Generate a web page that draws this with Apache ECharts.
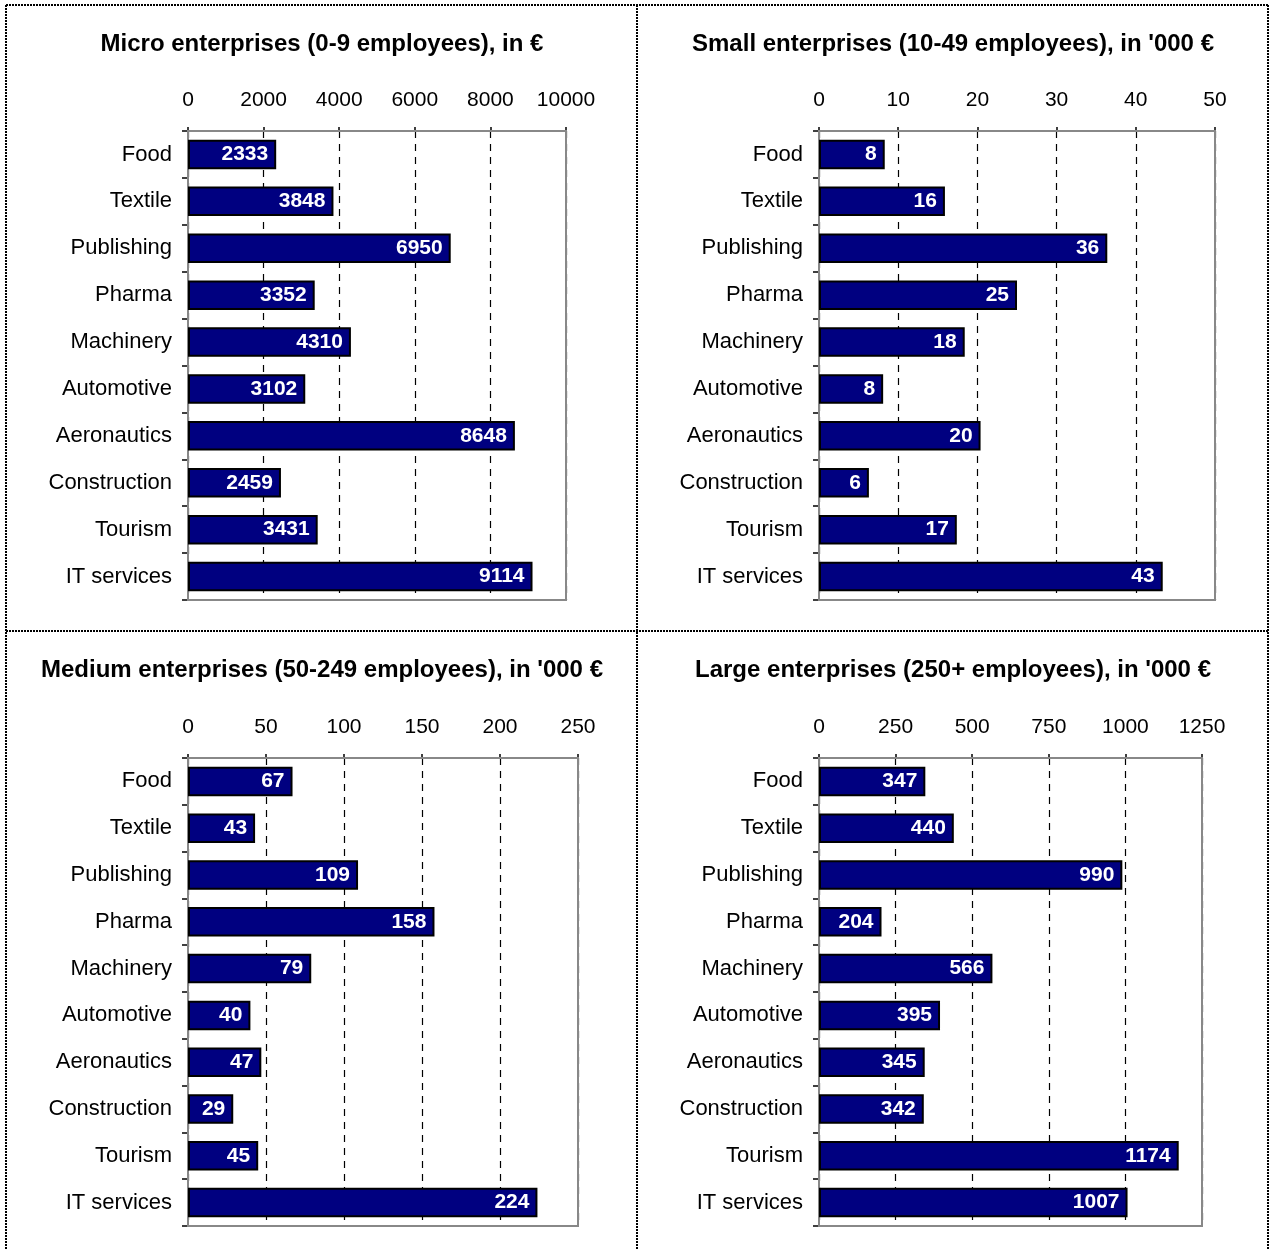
<!DOCTYPE html>
<html>
<head>
<meta charset="utf-8">
<script src="https://cdn.jsdelivr.net/npm/echarts@6/dist/echarts.min.js"></script>
<style>
  html, body { margin: 0; padding: 0; background: #fff; }
  #chart { width: 1271px; height: 1250px; }
</style>
</head>
<body>
<div id="chart"></div>
<script>
const categories = ['Food', 'Textile', 'Publishing', 'Pharma', 'Machinery', 'Automotive',
  'Aeronautics', 'Construction', 'Tourism', 'IT services'];

const microValues = [2333, 3848, 6950, 3352, 4310, 3102, 8648, 2459, 3431, 9114];
const smallValues = [8.3, 15.9, 36.4, 25.0, 18.4, 8.1, 20.4, 6.3, 17.4, 43.4];
const mediumValues = [67, 43, 109, 158, 79, 40, 47, 29, 45, 224];
const largeValues = [347, 440, 990, 204, 566, 395, 345, 342, 1174, 1007];

const panelTitles = [
  'Micro enterprises (0-9 employees), in €',
  "Small enterprises (10-49 employees), in '000 €",
  "Medium enterprises (50-249 employees), in '000 €",
  "Large enterprises (250+ employees), in '000 €"
];
const axisMax = [10000, 50, 250, 1250];
const axisStep = [2000, 10, 50, 250];

const font = '"Liberation Sans", Arial, sans-serif';
const seriesData = [microValues, smallValues, mediumValues, largeValues];

// plot areas in pixels
const grids = [
  { left: 188, top: 131, width: 378, height: 469 },
  { left: 819, top: 131, width: 396, height: 469 },
  { left: 188, top: 758, width: 390, height: 468 },
  { left: 819, top: 758, width: 383, height: 468 }
];
const titleX = [317, 948, 317, 948];
const titleY = [27, 27, 653, 653];

const chart = echarts.init(document.getElementById('chart'));

const dotted = { stroke: '#000', lineWidth: 2, lineDash: [2, 1] };

chart.setOption({
  animation: false,
  title: panelTitles.map((t, i) => ({
    text: t,
    left: titleX[i],
    top: titleY[i],
    textAlign: 'center',
    textStyle: { fontFamily: font, fontWeight: 'bold', fontSize: 24, color: '#000' }
  })),
  grid: grids.map(g => Object.assign({
    show: true,
    borderColor: '#888',
    borderWidth: 2,
    backgroundColor: 'transparent',
    z: 3
  }, g)),
  xAxis: grids.map((g, i) => ({
    type: 'value',
    gridIndex: i,
    position: 'top',
    min: 0,
    max: axisMax[i],
    interval: axisStep[i],
    axisLine: { show: true, lineStyle: { color: '#000', width: 1.5 } },
    axisTick: { show: true, length: 4, lineStyle: { color: '#000', width: 1.5 } },
    axisLabel: { margin: 20, fontFamily: font, fontSize: 21, color: '#000', formatter: v => String(v) },
    splitLine: { show: true, lineStyle: { color: '#000', type: [7, 6], width: 1.2 } }
  })),
  yAxis: grids.map((g, i) => ({
    type: 'category',
    gridIndex: i,
    inverse: true,
    data: categories,
    axisLine: { show: true, lineStyle: { color: '#000', width: 1.5 } },
    axisTick: { show: true, length: 6, lineStyle: { color: '#000', width: 1.5 } },
    axisLabel: { margin: 16, fontFamily: font, fontSize: 22, color: '#000', padding: [6, 0, 0, 0] },
    splitLine: { show: false }
  })),
  series: seriesData.map((d, i) => ({
    type: 'bar',
    xAxisIndex: i,
    yAxisIndex: i,
    data: d,
    barCategoryGap: '37%',
    z: 4,
    itemStyle: { color: '#000080', borderColor: '#000', borderWidth: 2 },
    label: {
      show: true,
      position: 'insideRight',
      distance: 8,
      formatter: p => Math.round(p.value),
      fontFamily: font,
      fontWeight: 'bold',
      fontSize: 21,
      color: '#fff'
    }
  })),
  graphic: [
    { type: 'line', shape: { x1: 6, y1: 5, x2: 1268, y2: 5 }, style: dotted, silent: true },
    { type: 'line', shape: { x1: 6, y1: 5, x2: 6, y2: 1250 }, style: dotted, silent: true },
    { type: 'line', shape: { x1: 1268, y1: 5, x2: 1268, y2: 1250 }, style: dotted, silent: true },
    { type: 'line', shape: { x1: 637, y1: 5, x2: 637, y2: 1250 }, style: dotted, silent: true },
    { type: 'line', shape: { x1: 6, y1: 631, x2: 1268, y2: 631 }, style: dotted, silent: true }
  ]
});
</script>
</body>
</html>
